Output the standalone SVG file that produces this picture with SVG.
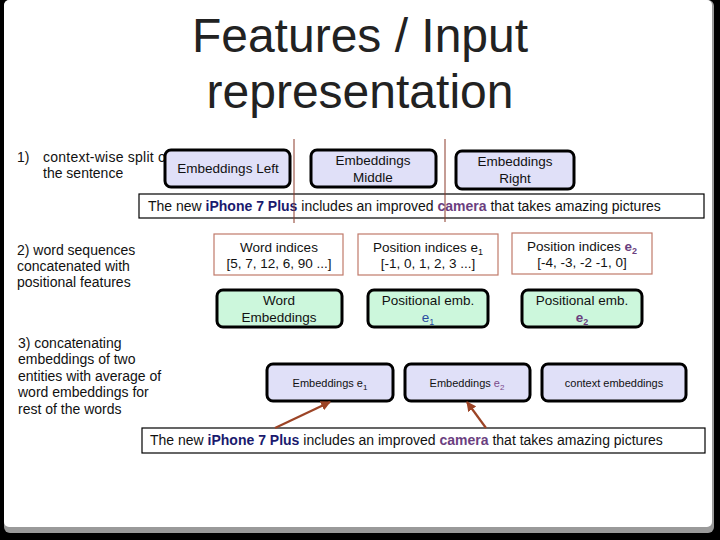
<svg xmlns="http://www.w3.org/2000/svg" width="720" height="540" viewBox="0 0 720 540">
<style>
text{font-family:"Liberation Sans",Arial,sans-serif;fill:#111;}
.title{font-size:48px;fill:#222;text-anchor:middle;}
.note{font-size:14px;}
.bt{font-size:13.5px;text-anchor:middle;}
.st{font-size:11px;text-anchor:middle;}
.sent{font-size:14px;}
.lav{fill:#e0e0f8;stroke:#000;stroke-width:3;}
.grn{fill:#ccf7dc;stroke:#000;stroke-width:3;}
.idx{fill:#fff;stroke:#c07a6a;stroke-width:1.2;}
.sbox{fill:#fff;stroke:#000;stroke-width:1.2;}
.vline{stroke:#8b3a2a;stroke-width:1;}
.arr{stroke:#9c4426;stroke-width:2.2;fill:none;marker-end:url(#ah);}
.nv{font-weight:bold;fill:#1a1a6e;}
.pu{font-weight:bold;fill:#6b3f7f;}
</style>
<defs>
<marker id="ah" viewBox="0 0 10 10" refX="9" refY="5" markerWidth="4.5" markerHeight="4.5" orient="auto" markerUnits="strokeWidth">
<path d="M0,0 L10,5 L0,10 z" fill="#9c4426"/>
</marker>
</defs>
<rect x="0" y="0" width="720" height="540" fill="#000"/>
<rect x="4" y="0" width="710" height="533" rx="6" fill="#9a9a9a"/>
<rect x="4" y="0" width="708" height="527" rx="5" fill="#fff"/>

<g id="title">
<text class="title" x="360" y="52">Features / Input</text>
<text class="title" x="360" y="108">representation</text>
</g>

<g id="notes">
<text class="note" x="17" y="162">1)</text>
<text class="note" x="43" y="162" textLength="127" lengthAdjust="spacing">context-wise split of</text>
<text class="note" x="43" y="178">the sentence</text>
<text class="note" x="17" y="255">2) word sequences</text>
<text class="note" x="17" y="271">concatenated with</text>
<text class="note" x="17" y="287">positional features</text>
<text class="note" x="18" y="348">3) concatenating</text>
<text class="note" x="18" y="364">embeddings of two</text>
<text class="note" x="18" y="381">entities with average of</text>
<text class="note" x="18" y="397">word embeddings for</text>
<text class="note" x="18" y="414">rest of the words</text>
</g>

<g id="emb-left">
<rect class="lav" x="165" y="150" width="125" height="37" rx="6"/>
<text class="bt" x="228" y="173">Embeddings Left</text>
</g>
<g id="emb-middle">
<rect class="lav" x="311" y="150" width="125" height="37" rx="6"/>
<text class="bt" x="373" y="165">Embeddings</text>
<text class="bt" x="373" y="182">Middle</text>
</g>
<g id="emb-right">
<rect class="lav" x="456" y="151" width="118" height="38" rx="6"/>
<text class="bt" x="515" y="166">Embeddings</text>
<text class="bt" x="515" y="183">Right</text>
</g>

<g id="sentence-top">
<rect class="sbox" x="139" y="194" width="565" height="24"/>
<text class="sent" x="148" y="211">The new <tspan class="nv">iPhone 7 Plus</tspan> includes an improved <tspan class="pu">camera</tspan> that takes amazing pictures</text>
</g>

<g id="word-indices">
<rect class="idx" x="214" y="234" width="129" height="41"/>
<text class="bt" x="279" y="252">Word indices</text>
<text class="bt" x="279" y="268">[5, 7, 12, 6, 90 ...]</text>
</g>
<g id="pos-indices-e1">
<rect class="idx" x="358" y="234" width="140" height="41"/>
<text class="bt" x="428" y="252">Position indices e<tspan font-size="9" dy="3">1</tspan></text>
<text class="bt" x="428" y="268">[-1, 0, 1, 2, 3 ...]</text>
</g>
<g id="pos-indices-e2">
<rect class="idx" x="512" y="233" width="140" height="41"/>
<text class="bt" x="582" y="251">Position indices <tspan class="pu">e</tspan><tspan class="pu" font-size="9" dy="3">2</tspan></text>
<text class="bt" x="582" y="267">[-4, -3, -2 -1, 0]</text>
</g>

<g id="word-emb">
<rect class="grn" x="217" y="290" width="125" height="37" rx="6"/>
<text class="bt" x="279" y="305">Word</text>
<text class="bt" x="279" y="322">Embeddings</text>
</g>
<g id="pos-emb-e1">
<rect class="grn" x="368" y="290" width="120" height="37" rx="6"/>
<text class="bt" x="428" y="305">Positional emb.</text>
<text class="bt" x="428" y="322" style="fill:#2a4ca0">e<tspan font-size="9" dy="3">1</tspan></text>
</g>
<g id="pos-emb-e2">
<rect class="grn" x="522" y="290" width="120" height="37" rx="6"/>
<text class="bt" x="582" y="305">Positional emb.</text>
<text class="bt" x="582" y="322"><tspan class="pu">e</tspan><tspan class="pu" font-size="9" dy="3">2</tspan></text>
</g>

<g id="emb-e1">
<rect class="lav" x="267" y="364" width="126" height="37" rx="6"/>
<text class="st" x="330" y="387">Embeddings e<tspan font-size="8" dy="3">1</tspan></text>
</g>
<g id="emb-e2">
<rect class="lav" x="405" y="364" width="125" height="37" rx="6"/>
<text class="st" x="467" y="387">Embeddings <tspan style="fill:#7a4a8a">e</tspan><tspan style="fill:#7a4a8a" font-size="8" dy="3">2</tspan></text>
</g>
<g id="context-emb">
<rect class="lav" x="542" y="364" width="144" height="37" rx="6"/>
<text class="st" x="614" y="387">context embeddings</text>
</g>

<g id="sentence-bottom">
<rect class="sbox" x="142" y="428" width="563" height="25"/>
<text class="sent" x="150" y="445">The new <tspan class="nv">iPhone 7 Plus</tspan> includes an improved <tspan class="pu">camera</tspan> that takes amazing pictures</text>
</g>

<g id="connectors">
<line class="vline" x1="294" y1="139" x2="294" y2="223"/>
<line class="vline" x1="445" y1="139" x2="445" y2="222"/>
<line class="arr" x1="275" y1="428" x2="330" y2="402"/>
<line class="arr" x1="486" y1="428" x2="467" y2="402"/>
</g>
</svg>
